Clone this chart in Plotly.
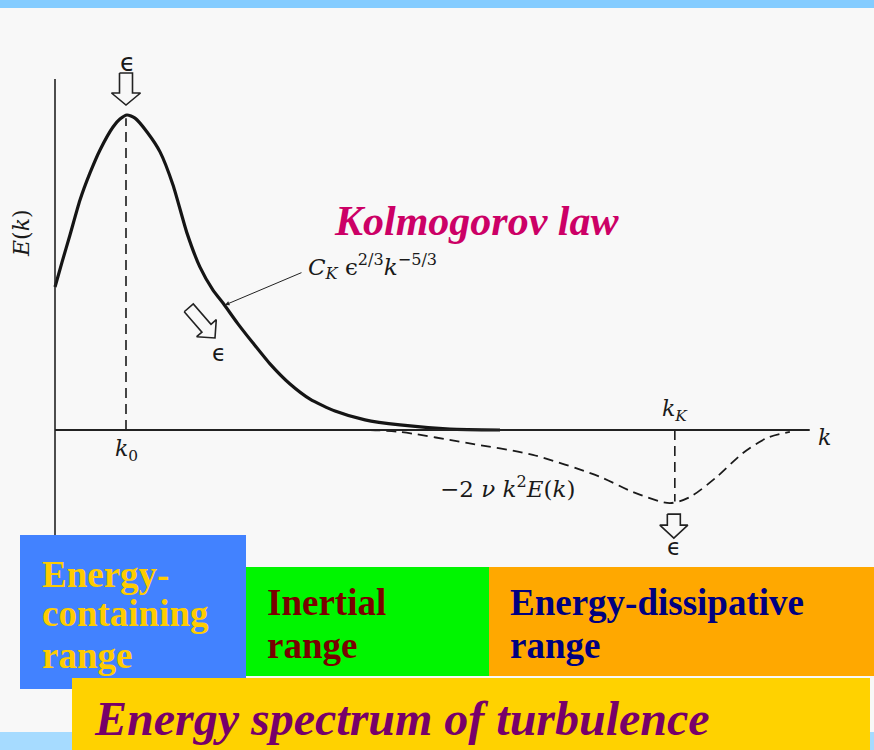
import math
import plotly.graph_objects as go

# ---------------- data (arbitrary units: k0 = 1, peak E = 1) ----------------
k_energy = [0.000, 0.099, 0.211, 0.352, 0.493, 0.634, 0.817, 0.915, 1.014, 1.127, 1.296, 1.479,
            1.662, 1.859, 2.042, 2.225, 2.366, 2.577, 2.789, 3.028, 3.310, 3.592, 3.944, 4.366,
            4.859, 5.563, 6.268]
E_energy = [0.454, 0.533, 0.619, 0.730, 0.816, 0.889, 0.962, 0.987, 1.000, 0.990, 0.946, 0.883,
            0.778, 0.625, 0.517, 0.444, 0.403, 0.337, 0.276, 0.210, 0.146, 0.098, 0.060, 0.032,
            0.016, 0.003, 0.000]

k_diss = [4.44, 4.86, 5.80, 6.73, 7.68, 8.14, 8.66, 8.94, 9.32, 9.69, 10.03, 10.35]
D_diss = [0.000, -0.006, -0.041, -0.079, -0.149, -0.197, -0.232, -0.213, -0.149, -0.073, -0.025, -0.006]

k0 = 1.00
kK = 8.73
E_peak = 1.00
D_min = -0.232
k_axis_end = 10.63
E_axis_top = 1.114

# ---------------- figure geometry ----------------
W, H = 874, 750
PX0, PXS = 55, 71.0     # pixel of k=0, pixels per k unit
PY0, PYS = 430, 315.0   # pixel of E=0, pixels per E unit
x_range = [-PX0 / PXS, (W - PX0) / PXS]
y_range = [-(H - PY0) / PYS, PY0 / PYS]


def kx(px):
    return (px - PX0) / PXS


def ey(py):
    return (PY0 - py) / PYS


def to_px(k, e):
    return PX0 + k * PXS, PY0 - e * PYS


def hollow_arrow(tip_px, tip_py, angle_deg, length, head_len, head_half, shaft_half):
    pts = [(-shaft_half, -length), (shaft_half, -length), (shaft_half, -head_len),
           (head_half, -head_len), (0, 0), (-head_half, -head_len),
           (-shaft_half, -head_len), (-shaft_half, -length)]
    a = math.radians(angle_deg)
    xs, ys = [], []
    for (u, v) in pts:
        rx = u * math.cos(a) - v * math.sin(a)
        ry = u * math.sin(a) + v * math.cos(a)
        xs.append(kx(tip_px + rx))
        ys.append(ey(tip_py + ry))
    return xs, ys


DASH = "10px,6px"
fig = go.Figure()

fig.add_trace(go.Scatter(x=k_energy, y=E_energy, mode="lines",
                         line=dict(color="#151515", width=3.2, shape="spline", smoothing=0.6),
                         hoverinfo="skip", showlegend=False))
fig.add_trace(go.Scatter(x=k_diss, y=D_diss, mode="lines",
                         line=dict(color="#1a1a1a", width=1.8, dash=DASH, shape="spline", smoothing=0.8),
                         hoverinfo="skip", showlegend=False))
fig.add_trace(go.Scatter(x=[k0, k0], y=[0, E_peak - 0.01], mode="lines",
                         line=dict(color="#1a1a1a", width=1.6, dash=DASH),
                         hoverinfo="skip", showlegend=False))
fig.add_trace(go.Scatter(x=[kK, kK], y=[0, D_min + 0.005], mode="lines",
                         line=dict(color="#1a1a1a", width=1.6, dash=DASH),
                         hoverinfo="skip", showlegend=False))

tx, ty = to_px(k0, E_peak)
ax_, ay_ = hollow_arrow(tx, ty - 10, 0, 32, 12, 14.5, 6.5)
fig.add_trace(go.Scatter(x=ax_, y=ay_, mode="lines", line=dict(color="#222", width=1.6),
                         hoverinfo="skip", showlegend=False))
ax_, ay_ = hollow_arrow(215, 338, -41, 40, 13, 13, 6)
fig.add_trace(go.Scatter(x=ax_, y=ay_, mode="lines", line=dict(color="#222", width=1.6),
                         hoverinfo="skip", showlegend=False))
tx, ty = to_px(kK, D_min)
ax_, ay_ = hollow_arrow(tx - 1, ty + 35, 0, 24, 13, 14, 6.5)
fig.add_trace(go.Scatter(x=ax_, y=ay_, mode="lines", line=dict(color="#222", width=1.6),
                         hoverinfo="skip", showlegend=False))

shapes = []
shapes.append(dict(type="rect", xref="paper", yref="paper", x0=0, x1=1, y0=1 - 8 / H, y1=1,
                   fillcolor="#84CCFF", line=dict(width=0), layer="below"))
shapes.append(dict(type="rect", xref="paper", yref="paper", x0=0, x1=1, y0=0, y1=18 / H,
                   fillcolor="#A6DBFF", line=dict(width=0), layer="below"))
shapes.append(dict(type="line", xref="x", yref="y", x0=0, x1=0, y0=E_axis_top, y1=ey(545),
                   line=dict(color="#222", width=1.6)))
shapes.append(dict(type="line", xref="x", yref="y", x0=0, x1=k_axis_end, y0=0, y1=0,
                   line=dict(color="#222", width=1.8)))


def box(x0, x1, y0, y1, color):
    shapes.append(dict(type="rect", xref="paper", yref="paper",
                       x0=x0 / W, x1=x1 / W, y0=1 - y1 / H, y1=1 - y0 / H,
                       fillcolor=color, line=dict(width=0), layer="above"))


box(246, 489, 567, 676, "#00F500")
box(489, 874, 567, 676, "#FFA800")
box(20, 246, 535, 689, "#4282FF")
box(72, 870, 678, 750, "#FFD200")

annotations = []


def txt(px, py, text, size, color="#1a1a1a", family="DejaVu Serif", xanchor="center",
        yanchor="middle", angle=0):
    annotations.append(dict(xref="paper", yref="paper", x=px / W, y=1 - py / H, text=text,
                            showarrow=False, xanchor=xanchor, yanchor=yanchor, textangle=angle,
                            font=dict(size=size, color=color, family=family)))


SERIF = "Liberation Serif"
txt(22, 233, "<i>E</i>(<i>k</i>)", 22, angle=-90)
txt(127, 63, "ϵ", 25, family="DejaVu Sans")
txt(219, 353, "ϵ", 23, family="DejaVu Sans")
txt(674, 547, "ϵ", 23, family="DejaVu Sans")
txt(126, 450, "<i>k</i><sub>0</sub>", 22)
txt(675, 410, "<i>k</i><sub><i>K</i></sub>", 22)
txt(824, 437, "<i>k</i>", 22)
txt(306, 266, "<i>C</i><sub><i>K</i></sub> ϵ<sup>2/3</sup><i>k</i><sup>−5/3</sup>", 23, xanchor="left")
txt(438, 487, "−2 <i>ν k</i><sup>2</sup><i>E</i>(<i>k</i>)", 23, xanchor="left")
txt(332, 221, "<b><i>Kolmogorov law</i></b>", 42, color="#CC0066", family=SERIF, xanchor="left")

txt(40, 574, "<b>Energy-</b>", 37, color="#FFCC00", family=SERIF, xanchor="left")
txt(40, 613, "<b>containing</b>", 37, color="#FFCC00", family=SERIF, xanchor="left")
txt(40, 655, "<b>range</b>", 37, color="#FFCC00", family=SERIF, xanchor="left")
txt(265, 602, "<b>Inertial</b>", 37, color="#7A0000", family=SERIF, xanchor="left")
txt(265, 645, "<b>range</b>", 37, color="#7A0000", family=SERIF, xanchor="left")
txt(508, 602, "<b>Energy-dissipative</b>", 37, color="#000080", family=SERIF, xanchor="left")
txt(508, 645, "<b>range</b>", 37, color="#000080", family=SERIF, xanchor="left")
txt(92, 718, "<b><i>Energy spectrum of turbulence</i></b>", 48, color="#77006A", family=SERIF,
    xanchor="left")

lx, ly = to_px(2.38, 0.40)
annotations.append(dict(xref="x", yref="y", x=kx(lx + 1), y=ey(ly + 1), ax=78, ay=-33,
                        showarrow=True, arrowhead=2, arrowsize=0.9, arrowwidth=1,
                        arrowcolor="#222", text=""))

fig.update_layout(
    width=W, height=H,
    margin=dict(l=0, r=0, t=0, b=0),
    paper_bgcolor="#F8F8F8", plot_bgcolor="#F8F8F8",
    xaxis=dict(range=x_range, visible=False, fixedrange=True),
    yaxis=dict(range=y_range, visible=False, fixedrange=True),
    shapes=shapes, annotations=annotations, showlegend=False,
)

fig.write_html("out.html", config={"displayModeBar": False},
               post_script="document.body.style.margin='0';document.body.style.padding='0';")
